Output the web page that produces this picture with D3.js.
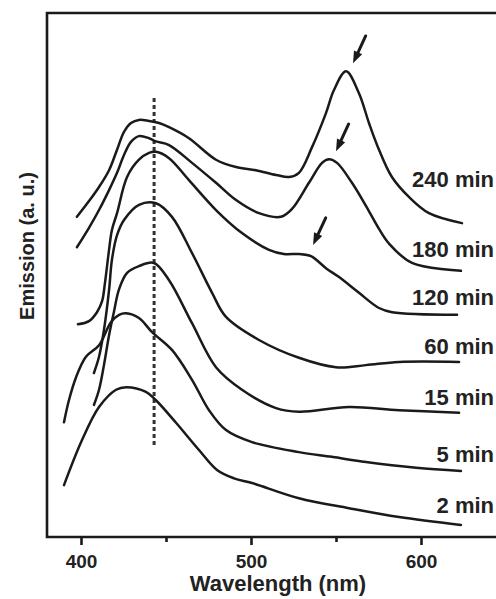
<!DOCTYPE html>
<html><head><meta charset="utf-8">
<script src="https://cdn.jsdelivr.net/npm/d3@7"></script>
<style>html,body{margin:0;padding:0;background:#fff;}svg{display:block;}</style>
</head><body>
<svg id="c" width="496" height="599"></svg>
<script>
// ---- data (wavelength nm, emission a.u.) ----
const labels = ["240 min","180 min","120 min","60 min","15 min","5 min","2 min"];
const xTicks = [400, 500, 600];
const xMinorTicks = [450, 550];
const dashedWl = 443;
const s240 = [[397.6,61.1],[404.7,64.1],[410.6,66.8],[416.5,70.0],[421.2,73.9],[425.3,77.3],[429.4,79.0],[434.1,79.6],[440,79.4],[445.9,79.0],[451.8,78.2],[463.5,76.1],[479.4,72.0],[491.2,70.6],[502.9,70.0],[514.7,69.1],[522.4,68.7],[528.2,69.5],[535.9,74.4],[544.1,80.9],[548.8,85.3],[555.9,88.9],[563.5,84.7],[569.4,79.0],[575.3,73.9],[582.9,68.7],[592.9,64.9],[604.7,61.8],[624.1,59.9]];
const s180 = [[397.6,55.3],[404.7,59.0],[410.6,62.4],[416.5,66.2],[421.2,69.5],[425.3,72.9],[429.4,75.4],[434.1,76.5],[440,76.1],[444.1,75.5],[451.8,74.8],[465.3,71.4],[479.4,67.6],[491.2,64.3],[504.7,61.8],[517.6,61.1],[524.1,62.6],[534.1,67.6],[541.8,71.4],[545.9,72.1],[550.6,71.4],[559.4,67.6],[567.6,63.2],[575.3,58.8],[581.2,56.0],[594.7,52.3],[623.5,50.8]];
const s120 = [[398.2,40.6],[404.7,41.2],[409.4,42.9],[412.4,45.0],[414.1,48.5],[416.5,54.8],[418.2,58.6],[421.2,61.8],[427.1,68.7],[434.1,72.0],[440,73.3],[444.1,73.5],[451.8,72.3],[463.5,68.1],[479.4,62.4],[494.7,58.0],[510.6,54.8],[519.4,54.0],[528.2,54.0],[535.3,53.6],[544.1,51.3],[551.8,49.6],[563.5,46.6],[575.3,43.7],[583,42.9],[621.2,42.4]];
const s60 = [[407.6,31.3],[410.6,34.4],[413.5,39.5],[416.5,47.1],[418.2,52.9],[421.2,57.6],[425.3,60.5],[434.1,63.4],[444.1,63.7],[453.5,61.1],[465.3,54.2],[477.1,46.6],[485.3,42.0],[504.7,37.6],[528.2,34.2],[550,32.4],[567.6,32.8],[587.1,33.4],[622.4,33.4]];
const s15 = [[407.6,25.2],[410.6,28.1],[413.5,32.8],[416.5,38.5],[419.4,43.0],[422.4,47.3],[427.1,50.4],[434.1,51.7],[442.9,52.3],[451.8,49.0],[465.3,40.8],[479.4,32.4],[494.7,28.1],[514.7,24.6],[528.2,23.9],[557.6,24.8],[587.1,24.2],[622.4,23.7]];
const s5 = [[390,21.9],[392.9,26.1],[397.1,30.5],[402.9,34.4],[410.6,36.6],[417.6,41.0],[422.4,42.4],[426.5,42.7],[434.1,41.8],[441.8,39.1],[453.5,35.7],[465.3,30.0],[475.3,24.2],[485.3,20.4],[500.6,18.1],[528.2,16.2],[547.6,15.3],[567.6,14.3],[597.1,13.2],[623.5,12.6]];
const s2 = [[390,9.9],[400.6,18.5],[410.6,24.8],[420.6,28.1],[426.5,28.6],[438.2,27.7],[444.1,26.1],[455.9,21.8],[469.4,16.6],[480,12.8],[490,11.2],[500.6,10.3],[528.2,7.4],[557.6,5.5],[587.1,3.8],[623.5,2.3]];
const series = [s240, s180, s120, s60, s15, s5, s2];
// arrow targets (peaks marked by arrows)
const arrowTargets = [[555.9,88.9],[545.9,72.1],[532.4,54.2]];
const dashRange = [17.2, 83.8];

// ---- drawing ----
const svg = d3.select("#c");
const x = d3.scaleLinear().domain([380, 650]).range([47, 506]);
const y = d3.scaleLinear().domain([0, 100]).range([537, 13]);
const ink = "#1a1a1a";
const font = "'Liberation Sans', Arial, sans-serif";

// frame
svg.append("path")
  .attr("d", `M${x.range()[1]+10},${y(100)}H${x(380)}V${y(0)}H${x.range()[1]+10}`)
  .attr("fill","none").attr("stroke",ink).attr("stroke-width",2.6);

// x axis
const xAxis = d3.axisBottom(x).tickValues(xTicks).tickSize(8).tickPadding(6).tickFormat(d3.format("d"));
const gx = svg.append("g").attr("transform",`translate(0,${y(0)})`).call(xAxis);
gx.select(".domain").remove();
gx.selectAll(".tick line").attr("stroke",ink).attr("stroke-width",2.6);
gx.selectAll(".tick text").attr("font-family",font).attr("font-size",19).attr("font-weight","bold").attr("fill","#222").attr("dy","0.9em");
const gxm = svg.append("g").attr("transform",`translate(0,${y(0)})`)
  .call(d3.axisBottom(x).tickValues(xMinorTicks).tickSize(5).tickFormat(""));
gxm.select(".domain").remove();
gxm.selectAll(".tick line").attr("stroke",ink).attr("stroke-width",2.6);

svg.append("text").attr("x", 278).attr("y", 591).attr("text-anchor","middle")
  .attr("font-family",font).attr("font-size",22).attr("font-weight","bold").attr("fill","#222")
  .text("Wavelength (nm)");
svg.append("text").attr("transform","translate(34,246) rotate(-90)").attr("text-anchor","middle")
  .attr("font-family",font).attr("font-size",20).attr("font-weight","bold").attr("fill","#222")
  .text("Emission (a. u.)");

// dashed line
svg.append("line").attr("x1",x(dashedWl)).attr("x2",x(dashedWl))
  .attr("y1",y(dashRange[1])).attr("y2",y(dashRange[0]))
  .attr("stroke","#333").attr("stroke-width",3).attr("stroke-dasharray","4,3");

// curves
const line = d3.line().x(d=>x(d[0])).y(d=>y(d[1])).curve(d3.curveCatmullRom.alpha(0.5));
svg.append("g").selectAll("path").data(series).join("path")
  .attr("d", line).attr("fill","none").attr("stroke",ink).attr("stroke-width",2.5)
  .attr("stroke-linejoin","round").attr("stroke-linecap","round");

// labels
const labelLift = [36,14,10,8,8,9,12];
svg.append("g").selectAll("text").data(series).join("text")
  .attr("x", 494).attr("y", (s,i)=> y(s[s.length-1][1]) - labelLift[i])
  .attr("text-anchor","end").attr("font-family",font).attr("font-size",22).attr("font-weight","bold").attr("fill","#222")
  .text((s,i)=>labels[i]);

// arrows
const ag = svg.append("g");
arrowTargets.forEach(t=>{
  const tx = x(t[0]) + 7, ty = y(t[1]) - 8;
  const ang = Math.atan2(28, -13); // direction tail->tip
  const len = 30, ux = Math.cos(ang), uy = Math.sin(ang);
  const sx = tx - ux*len, sy = ty - uy*len;
  const hl = 12, hw = 4.5;
  const bx = tx - ux*hl, by = ty - uy*hl;
  ag.append("line").attr("x1",sx).attr("y1",sy).attr("x2",bx).attr("y2",by)
    .attr("stroke",ink).attr("stroke-width",3).attr("stroke-linecap","round");
  ag.append("path").attr("d",`M${tx},${ty}L${bx - uy*hw},${by + ux*hw}L${bx + uy*hw},${by - ux*hw}Z`).attr("fill",ink);
});
</script>
</body></html>
